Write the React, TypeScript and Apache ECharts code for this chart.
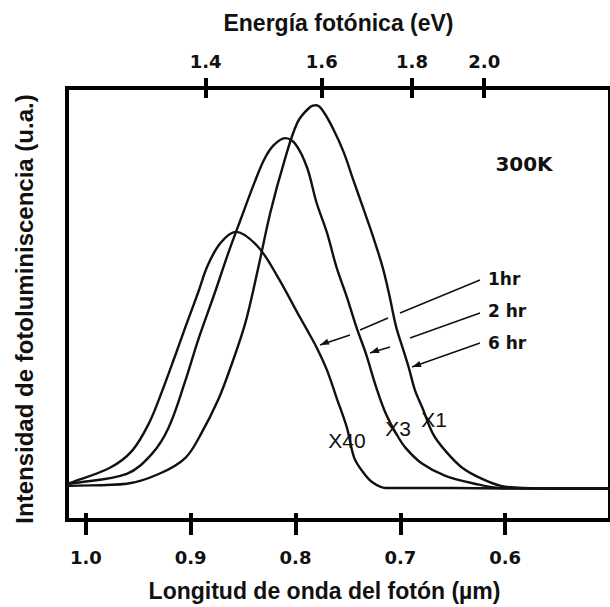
import React, { useEffect, useRef } from "react";
import * as echarts from "echarts";

// Bottom axis: photon wavelength (µm); top axis: photon energy (eV)
const wavelengthTicks = [1.0, 0.9, 0.8, 0.7, 0.6];
const energyTicks = [1.4, 1.6, 1.8, 2.0];

// Curve "X40" (1 hr)
const x40Lambda = [1.018, 1.015, 0.977, 0.956, 0.94, 0.927, 0.914, 0.905, 0.893, 0.884, 0.872, 0.857, 0.836, 0.817, 0.798, 0.789, 0.78, 0.77, 0.761, 0.751, 0.744, 0.735, 0.726, 0.714, 0.65, 0.6, 0.55, 0.5];
const x40Intensity = [8.4, 8.6, 12.1, 16.0, 22.3, 30.0, 38.6, 44.7, 52.6, 58.8, 64.0, 66.7, 63.3, 56.3, 47.9, 44.0, 40.0, 34.7, 28.4, 21.4, 14.4, 10.9, 8.6, 7.4, 7.4, 7.3, 7.3, 7.3];

// Curve "X3" (2 hr)
const x3Lambda = [1.018, 1.015, 0.961, 0.937, 0.921, 0.905, 0.893, 0.877, 0.864, 0.852, 0.839, 0.83, 0.821, 0.81, 0.8, 0.789, 0.78, 0.77, 0.761, 0.751, 0.742, 0.733, 0.723, 0.714, 0.704, 0.695, 0.679, 0.657, 0.629, 0.604, 0.55, 0.5];
const x3Intensity = [8.2, 8.4, 10.7, 15.3, 21.4, 32.3, 41.6, 52.6, 61.9, 69.8, 78.2, 83.4, 86.7, 88.4, 87.0, 81.6, 73.5, 66.5, 58.6, 51.6, 44.7, 38.6, 30.7, 24.7, 20.0, 16.7, 13.0, 10.2, 8.4, 7.4, 7.3, 7.3];

// Curve "X1" (6 hr)
const x1Lambda = [1.018, 1.015, 0.961, 0.93, 0.905, 0.89, 0.874, 0.862, 0.848, 0.836, 0.824, 0.811, 0.798, 0.786, 0.78, 0.773, 0.764, 0.754, 0.745, 0.735, 0.726, 0.717, 0.711, 0.704, 0.698, 0.692, 0.686, 0.679, 0.669, 0.657, 0.641, 0.622, 0.604, 0.582, 0.55, 0.5];
const x1Intensity = [7.8, 7.9, 8.4, 10.7, 14.4, 20.0, 27.7, 35.3, 45.5, 57.9, 71.2, 82.8, 92.1, 95.6, 96.0, 94.4, 90.5, 85.1, 78.8, 71.9, 65.6, 58.6, 52.6, 44.7, 40.0, 35.3, 30.0, 26.0, 20.0, 16.0, 12.1, 9.5, 7.9, 7.4, 7.3, 7.3];

const HC = 1.24; // eV·µm

const INK = "#111";

function zip(xs: number[], ys: number[]) {
  return xs.map((x, i) => [x, ys[i]]);
}

function arrowElements(segs: number[][]) {
  const els: any[] = segs.map((s) => ({
    type: "line",
    shape: { x1: s[0], y1: s[1], x2: s[2], y2: s[3] },
    style: { stroke: INK, lineWidth: 1.5 },
    z: 10,
  }));
  const first = segs[0];
  const last = segs[segs.length - 1];
  const tx = last[2];
  const ty = last[3];
  const dx = tx - first[0];
  const dy = ty - first[1];
  const d = Math.sqrt(dx * dx + dy * dy);
  const ux = dx / d;
  const uy = dy / d;
  const len = 9;
  const half = 3.2;
  const bx = tx - ux * len;
  const by = ty - uy * len;
  els.push({
    type: "polygon",
    shape: {
      points: [
        [tx, ty],
        [bx - uy * half, by + ux * half],
        [bx + uy * half, by - ux * half],
      ],
    },
    style: { fill: INK },
    z: 10,
  });
  return els;
}

export default function App() {
  const ref = useRef<HTMLDivElement>(null);
  useEffect(() => {
    if (!ref.current) return;
    const chart = echarts.init(ref.current, undefined, { renderer: "svg" });
    const xMin = 0.5;
    const xMax = 1.018;
    const tickLabelStyle = {
      fontFamily: "DejaVu Sans",
      fontWeight: "bold",
      fontSize: 18,
      color: INK,
    };
    const titleStyle = {
      fontFamily: "Liberation Sans",
      fontWeight: "bold",
      fontSize: 23,
      color: INK,
    };
    const energyPositions = energyTicks.map((e) => HC / e);
    const baseX = {
      type: "value",
      min: xMin,
      max: xMax,
      inverse: true,
      splitLine: { show: false },
    };
    const lineSeries = (name: string, xs: number[], ys: number[]) => ({
      type: "line",
      name,
      data: zip(xs, ys),
      showSymbol: false,
      smooth: 0.35,
      xAxisIndex: 0,
      yAxisIndex: 0,
      lineStyle: { color: INK, width: 2.4 },
      itemStyle: { color: INK },
      z: 3,
    });
    const textEl = (text: string, x: number, y: number, font: any, align = "center") => ({
      type: "text",
      x,
      y,
      z: 20,
      style: {
        text,
        fill: INK,
        align,
        verticalAlign: "middle",
        ...font,
      },
    });
    const labelFont = { fontFamily: "Liberation Sans", fontSize: 21, fontWeight: "normal" };
    const hrFont = { fontFamily: "DejaVu Sans", fontSize: 17, fontWeight: "bold" };
    chart.setOption({
      animation: false,
      backgroundColor: "#ffffff",
      grid: {
        left: 67,
        top: 88,
        width: 550,
        height: 432,
        show: true,
        borderColor: "#000",
        borderWidth: 4,
        backgroundColor: "transparent",
      },
      xAxis: [
        {
          ...baseX,
          position: "bottom",
          axisLine: { show: false, onZero: false },
          axisTick: {
            show: true,
            inside: false,
            length: 15,
            lineStyle: { color: "#000", width: 4 },
            customValues: wavelengthTicks,
          },
          axisLabel: {
            show: true,
            customValues: wavelengthTicks,
            formatter: (v: number) => v.toFixed(1),
            margin: 28,
            ...tickLabelStyle,
          },
          name: "Longitud de onda del fotón (µm)",
          nameLocation: "middle",
          nameGap: 59,
          nameTextStyle: { ...titleStyle, padding: [0, 28, 0, 0] },
        },
        {
          ...baseX,
          position: "bottom",
          axisLine: { show: false, onZero: false },
          axisTick: {
            show: true,
            inside: true,
            length: 7,
            lineStyle: { color: "#000", width: 4 },
            customValues: wavelengthTicks,
          },
          axisLabel: { show: false },
        },
        {
          ...baseX,
          position: "top",
          axisLine: { show: false, onZero: false },
          axisTick: {
            show: true,
            inside: false,
            length: 10,
            lineStyle: { color: "#000", width: 4 },
            customValues: energyPositions,
          },
          axisLabel: {
            show: true,
            customValues: energyPositions,
            formatter: (v: number) => (HC / v).toFixed(1),
            margin: 18,
            ...tickLabelStyle,
          },
          name: "Energía fotónica (eV)",
          nameLocation: "middle",
          nameGap: 54,
          nameTextStyle: { ...titleStyle },
        },
        {
          ...baseX,
          position: "top",
          axisLine: { show: false, onZero: false },
          axisTick: {
            show: true,
            inside: true,
            length: 10,
            lineStyle: { color: "#000", width: 4 },
            customValues: energyPositions,
          },
          axisLabel: { show: false },
        },
      ],
      yAxis: {
        type: "value",
        min: 0,
        max: 100,
        position: "left",
        axisLine: { show: false, onZero: false },
        axisTick: { show: false },
        axisLabel: { show: false },
        splitLine: { show: false },
        name: "Intensidad de fotoluminiscencia (u.a.)",
        nameLocation: "middle",
        nameGap: 31,
        nameTextStyle: { ...titleStyle, fontSize: 24, padding: [0, 10, 0, 0] },
      },
      series: [
        lineSeries("X40", x40Lambda, x40Intensity),
        lineSeries("X3", x3Lambda, x3Intensity),
        lineSeries("X1", x1Lambda, x1Intensity),
      ],
      graphic: [
        textEl("300K", 524, 164, { fontFamily: "DejaVu Sans", fontSize: 20, fontWeight: "bold" }),
        textEl("1hr", 488, 279, hrFont, "left"),
        textEl("2 hr", 488, 311, hrFont, "left"),
        textEl("6 hr", 488, 343, hrFont, "left"),
        textEl("X40", 347, 440, labelFont),
        textEl("X3", 398, 428, labelFont),
        textEl("X1", 434, 419, labelFont),
        ...arrowElements([
          [480, 280, 400, 313],
          [388, 318, 360, 330],
          [350, 335, 320, 345],
        ]),
        ...arrowElements([
          [480, 313, 410, 338],
          [390, 347, 370, 353],
        ]),
        ...arrowElements([[480, 343, 412, 367]]),
      ],
    });
    return () => chart.dispose();
  }, []);
  return (
    <div
      ref={ref}
      style={{ position: "absolute", left: 0, top: 0, width: 610, height: 607 }}
    />
  );
}
